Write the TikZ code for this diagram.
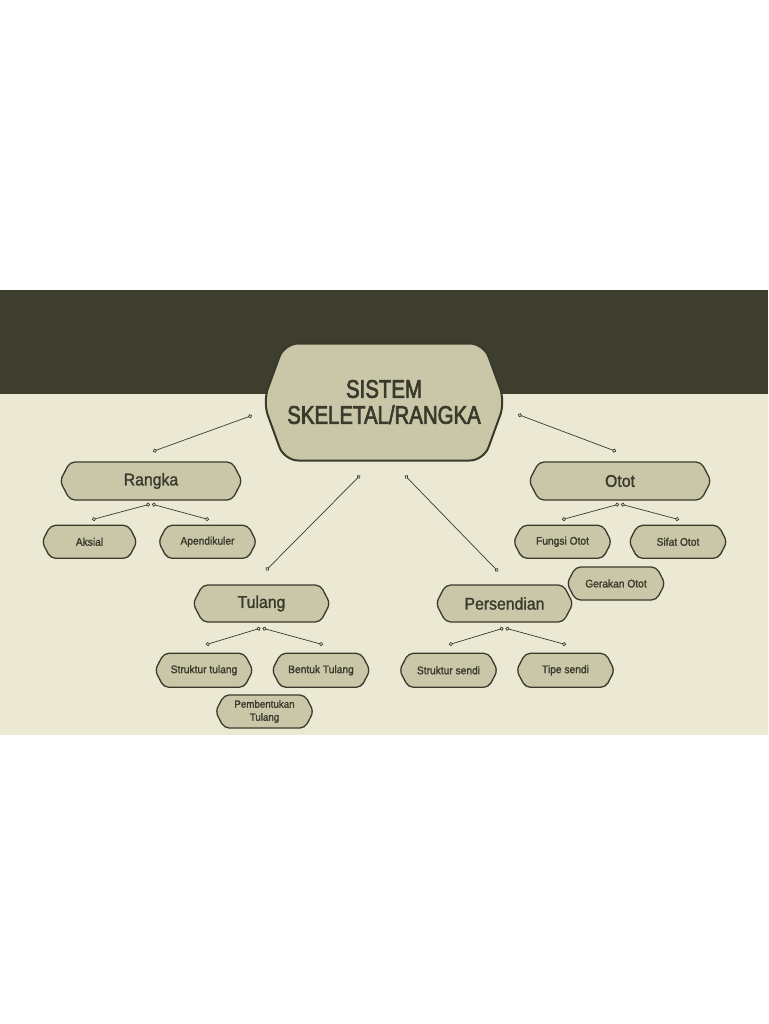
\documentclass[tikz,border=0pt]{standalone}
\usepackage{fontspec}
\setmainfont{Liberation Sans}
\newfontfamily\titlefont{Liberation Sans}[FakeStretch=0.8, FakeBold=2.5]
\newfontfamily\boxfont{Liberation Sans}[FakeStretch=0.93, FakeBold=1.5]
\usetikzlibrary{positioning, shapes.symbols, arrows.meta}
\definecolor{band}{HTML}{3E3E2F}
\definecolor{paper}{HTML}{EBE9D4}
\definecolor{boxfill}{HTML}{C9C7A8}
\definecolor{ink}{HTML}{3A3A2C}
\tikzset{
    hexbox/.style={
        shape = signal, signal to = east and west,
        signal pointer angle = 125,
        draw = ink, fill = boxfill, line width = 1.3pt,
        rounded corners = 5pt, inner sep = 0pt,
        text = ink, align = center
    },
    topic/.style = {hexbox, minimum width = 182pt, minimum height = 38pt,
        font = \boxfont\fontsize{17}{19}\selectfont},
    subtopic/.style = {hexbox, minimum width = 98pt, minimum height = 33pt,
        font = \boxfont\fontsize{11}{12}\selectfont},
    link/.style = {draw = ink, line width = 0.7pt,
        {Circle[open, length=4pt, width=4pt]}-{Circle[open, length=4pt, width=4pt]}}
}

\begin{document}
\begin{tikzpicture}[x=1pt, y=-1pt]

    \useasboundingbox (0,0) rectangle (768,1024);

    % Background
    \fill[white] (0,0) rectangle (768,1024);
    \fill[band] (0,290) rectangle (768,394);
    \fill[paper] (0,394) rectangle (768,735);

    % Blocks
    \node[hexbox, signal pointer angle = 140,
        minimum width = 242pt, minimum height = 117pt,
        line width = 2pt, rounded corners = 14pt,
        font = \titlefont\fontsize{25.5}{26}\selectfont] (main) at (384,402) {SISTEM\\SKELETAL/RANGKA};

    \node[topic] (rangka) at (151,481) {Rangka};
    \node[topic] (otot) at (620,481) {Otot};
    \node[topic, minimum width = 137pt, minimum height = 37pt] (tulang) at (261.5,603.5) {Tulang};
    \node[topic, minimum width = 137pt, minimum height = 37pt] (sendi) at (504.5,603.5) {Persendian};

    % Sub blocks
    \node[subtopic, below = 24pt of rangka, xshift = -61.5pt, minimum width = 95pt] (aksial) {Aksial};
    \node[subtopic, below = 24pt of rangka, xshift = 56.5pt] (apendik) {Apendikuler};
    \node[subtopic, below = 24pt of otot, xshift = -57.5pt] (fungsi) {Fungsi Otot};
    \node[subtopic, below = 24pt of otot, xshift = 58pt] (sifat) {Sifat Otot};
    \node[subtopic] (gerak) at (616,583.5) {Gerakan Otot};

    \node[subtopic, below = 30pt of tulang, xshift = -57.5pt, minimum height = 34pt] (strTulang) {Struktur tulang};
    \node[subtopic, below = 30pt of tulang, xshift = 59.5pt, minimum height = 34pt] (bentuk) {Bentuk Tulang};
    \node[subtopic, font = \boxfont\fontsize{10.5}{13}\selectfont] (pembentukan) at (264.5,711.5) {Pembentukan\\Tulang};
    \node[subtopic, below = 30pt of sendi, xshift = -56pt, minimum height = 34pt] (strSendi) {Struktur sendi};
    \node[subtopic, below = 30pt of sendi, xshift = 61pt, minimum height = 34pt] (tipe) {Tipe sendi};

    % Lines
    \draw[link] ([shift={(-10,13.5)}]main.west) -- ([shift={(2,-10)}]rangka.north);
    \draw[link] ([shift={(12,12.5)}]main.east) -- ([shift={(-4,-10)}]otot.north);
    \draw[link] ([shift={(-24,14)}]main.south) -- ([shift={(4.5,-14)}]tulang.north);
    \draw[link] ([shift={(21,14)}]main.south) -- ([shift={(-6.5,-13)}]sendi.north);

    \draw[link] ([shift={(-1,3.5)}]rangka.south) -- ([shift={(2.5,-5)}]aksial.north);
    \draw[link] ([shift={(1,3.5)}]rangka.south) -- ([shift={(1.5,-5)}]apendik.north);
    \draw[link] ([shift={(-1,3.5)}]otot.south) -- ([shift={(-0.5,-5)}]fungsi.north);
    \draw[link] ([shift={(1,3.5)}]otot.south) -- ([shift={(1,-5)}]sifat.north);
    \draw[link] ([shift={(-1,5.5)}]tulang.south) -- ([shift={(2,-8)}]strTulang.north);
    \draw[link] ([shift={(1,5.5)}]tulang.south) -- ([shift={(2,-8)}]bentuk.north);
    \draw[link] ([shift={(-1,5.5)}]sendi.south) -- ([shift={(0.5,-8)}]strSendi.north);
    \draw[link] ([shift={(1,5.5)}]sendi.south) -- ([shift={(0.5,-8)}]tipe.north);

\end{tikzpicture}
\end{document}
